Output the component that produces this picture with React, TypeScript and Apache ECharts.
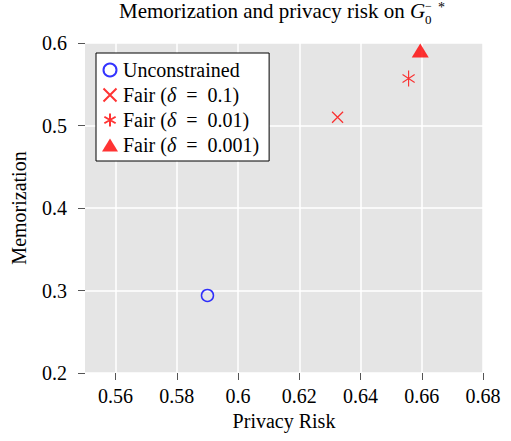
import React, { useEffect, useRef } from 'react';
import * as echarts from 'echarts';

const xTicks = [0.56, 0.58, 0.6, 0.62, 0.64, 0.66, 0.68];
const seriesNames = ['Unconstrained', 'Fair (δ = 0.1)', 'Fair (δ = 0.01)', 'Fair (δ = 0.001)'];
const unconstrained = [[0.59, 0.294]];
const fair01 = [[0.6325, 0.51]];
const fair001 = [[0.6557, 0.557]];
const fair0001 = [[0.6595, 0.591]];

const FONT = 'Liberation Serif';
const CROSS = 'path://M0 0L10 10M10 0L0 10';
const ASTER = 'path://M5 0L5 10M0.67 2.5L9.33 7.5M0.67 7.5L9.33 2.5';

const serif20 = { fontFamily: FONT, fontSize: 20, color: '#000' };

export default function App() {
  const ref = useRef<HTMLDivElement>(null);
  useEffect(() => {
    document.body.style.margin = '0';
    const chart = echarts.init(ref.current!, null, { renderer: 'svg' });
    chart.setOption({
      animation: false,
      textStyle: { fontFamily: FONT, color: '#000' },
      title: {
        text: 'Memorization and privacy risk on {g|G}',
        left: 119,
        top: 0,
        padding: 0,
        textStyle: {
          fontFamily: FONT,
          fontSize: 21,
          fontWeight: 'normal',
          color: '#000',
          rich: { g: { fontFamily: FONT, fontSize: 21, fontStyle: 'italic', color: '#000' } },
        },
      },
      graphic: [
        { type: 'text', x: 425, y: 13.5, style: { text: '0', fontFamily: FONT, fontSize: 13, lineHeight: 11, fill: '#000', verticalAlign: 'top', align: 'left' } },
        { type: 'text', x: 425, y: 0.5, style: { text: '−', fontFamily: FONT, fontSize: 12, lineHeight: 10, fill: '#000', verticalAlign: 'top', align: 'left' } },
        { type: 'text', x: 438, y: 0, style: { text: '*', fontFamily: FONT, fontSize: 14, lineHeight: 14, fill: '#000', verticalAlign: 'top', align: 'left' } },
      ],
      grid: {
        left: 85,
        right: 28,
        top: 43,
        bottom: 68,
        show: true,
        backgroundColor: '#e5e5e5',
        borderWidth: 0,
      },
      legend: {
        orient: 'vertical',
        left: 96,
        top: 53,
        padding: [7, 10, 6, 6],
        itemGap: 5,
        itemWidth: 16,
        itemHeight: 13,
        backgroundColor: '#ffffff',
        borderColor: '#000000',
        borderWidth: 1,
        borderRadius: 0,
        data: seriesNames,
        formatter: (name: string) => name.replace('δ', '{d|δ}').replace(' = ', '\u2002=\u2002'),
        textStyle: {
          fontFamily: FONT,
          fontSize: 20,
          lineHeight: 20,
          color: '#000',
          rich: {
            d: { fontFamily: FONT, fontSize: 20, lineHeight: 20, fontStyle: 'italic', color: '#000' },
          },
        },
      },
      xAxis: {
        type: 'value',
        min: 0.55,
        max: 0.68,
        name: 'Privacy Risk',
        nameLocation: 'middle',
        nameGap: 38,
        nameTextStyle: serif20,
        axisLine: { show: false },
        axisTick: { show: true, length: 7, inside: false, customValues: xTicks, lineStyle: { color: '#555', width: 1 } },
        axisLabel: { customValues: xTicks, margin: 13, ...serif20 },
        splitLine: { show: true, lineStyle: { color: '#ffffff', width: 1.5 } },
      },
      yAxis: {
        type: 'value',
        min: 0.2,
        max: 0.6,
        interval: 0.1,
        name: 'Memorization',
        nameLocation: 'middle',
        nameRotate: 90,
        nameGap: 56,
        nameTextStyle: serif20,
        axisLine: { show: false },
        axisTick: { show: true, length: 7, inside: false, lineStyle: { color: '#555', width: 1 } },
        axisLabel: {
          margin: 18,
          ...serif20,
          formatter: (v: number) => String(Math.round(v * 10) / 10),
        },
        splitLine: { show: true, lineStyle: { color: '#ffffff', width: 1.5 } },
      },
      series: [
        {
          name: seriesNames[0],
          type: 'scatter',
          data: unconstrained,
          symbol: 'circle',
          symbolSize: 12,
          itemStyle: { color: 'rgba(0,0,0,0)', borderColor: '#0000ff', borderWidth: 1.5 },
        },
        {
          name: seriesNames[1],
          type: 'scatter',
          data: fair01,
          symbol: CROSS,
          symbolKeepAspect: true,
          symbolSize: 11,
          itemStyle: { color: 'rgba(0,0,0,0)', borderColor: '#ff0000', borderWidth: 1.2 },
        },
        {
          name: seriesNames[2],
          type: 'scatter',
          data: fair001,
          symbol: ASTER,
          symbolKeepAspect: true,
          symbolSize: [14, 16],
          itemStyle: { color: 'rgba(0,0,0,0)', borderColor: '#ff0000', borderWidth: 1.2 },
        },
        {
          name: seriesNames[3],
          type: 'scatter',
          data: fair0001,
          symbol: 'triangle',
          symbolSize: [17, 14],
          itemStyle: { color: '#ff0000' },
        },
      ],
    });
    return () => chart.dispose();
  }, []);
  return <div ref={ref} style={{ width: 511, height: 441 }} />;
}
